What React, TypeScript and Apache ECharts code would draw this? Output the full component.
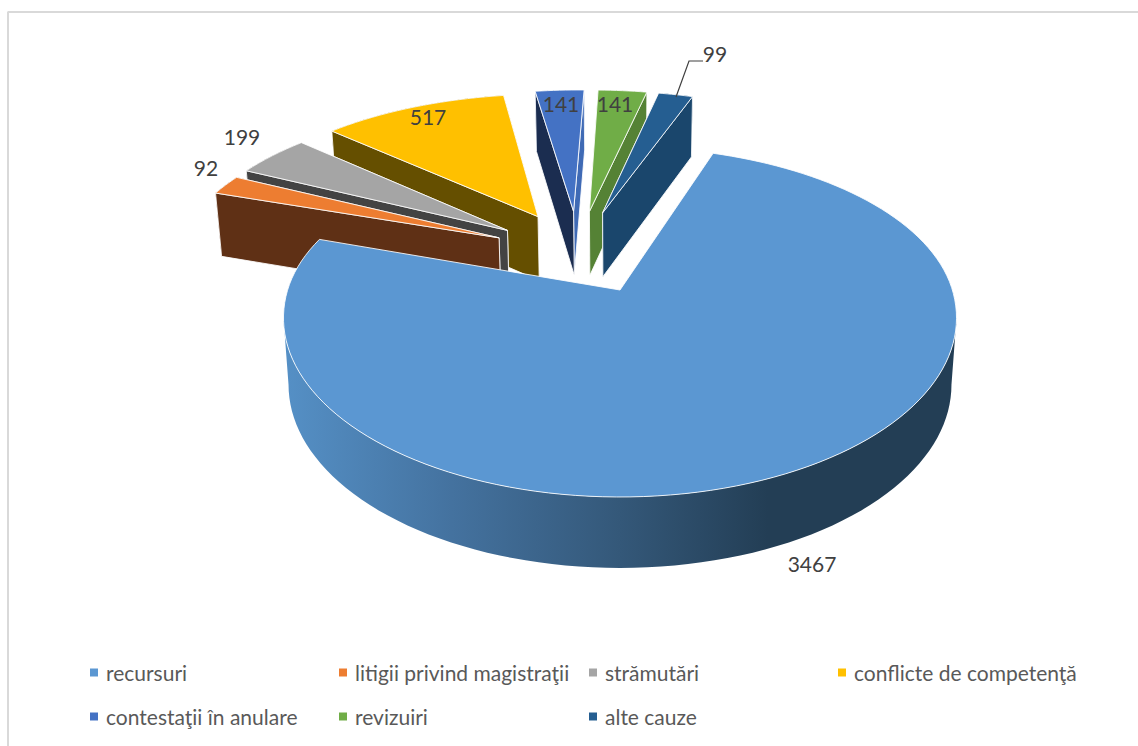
import React, { useEffect, useRef } from "react";
import * as echarts from "echarts";

const categories = ["recursuri", "litigii privind magistraţii", "strămutări", "conflicte de competenţă", "contestaţii în anulare", "revizuiri", "alte cauze"];
const values = [3467, 92, 199, 517, 141, 141, 99];
const topColors = ["#5B97D2", "#ED7D31", "#A5A5A5", "#FFC000", "#4472C4", "#70AD47", "#255E91"];
const startWallColors = ["#365B80", "#5F3015", "#434343", "#654F00", "#1B2D50", "#558235", "#1A466C"];
const endWallColors = ["#365B80", "#5F3015", "#434343", "#654F00", "#3F6AB5", "#558235", "#1A466C"];
const paintOrder = [8, 7, 6, 5, 2, 3, 4];

const legendCols = [90, 339, 589, 838];
const legendSlots = [[0, 0], [1, 0], [2, 0], [3, 0], [0, 1], [1, 1], [2, 1]];
const legendRows = [662, 706];
const labelSpots = [[812, 563], [206, 167], [242, 136], [428, 116], [561, 103], [615, 103], [715, 53]];
const leader = [[676, 97], [689, 61], [703, 61]];

// Perspective model of the pie plane
const X0 = 620, Y0 = 290, A = 332.4, B = 174.7, K = 0.156;
const DEPTH = 66, K2 = 0.07, LEAN = 0.985;
const START = 19.7, EXPLODE = 0.27, CENTER = [-0.13, -0.215], SMALL_STRETCH = 1.035;
const total = values.reduce((a, b) => a + b, 0);
const rad = (d: number) => (d * Math.PI) / 180;
const dir = (deg: number) => [Math.sin(rad(deg)), -Math.cos(rad(deg))];

const spanOf = (i: number) => {
  const before = values.slice(0, i).reduce((a, b) => a + b, 0);
  const a0 = START + (before / total) * 360;
  return [a0, a0 + (values[i] / total) * 360];
};

const top = (u: number, v: number) => {
  const w = 1 - K * v;
  return [X0 + (A * u) / w, Y0 + (B * v) / w];
};
const bottom = (u: number, v: number) => {
  const p = top(u, v);
  return [X0 + (p[0] - X0) * LEAN, p[1] + DEPTH / (1 - K2 * v)];
};

const edge = "rgba(255,255,255,0.85)";

function sliceElements(i: number) {
  const [a0, a1] = spanOf(i);
  const mid = (a0 + a1) / 2;
  const d = dir(mid);
  const ax = i === 0 ? 0 : CENTER[0] + EXPLODE * d[0];
  const ay = i === 0 ? 0 : CENTER[1] + EXPLODE * d[1];
  const base = i === 0 ? 1 : 0.97;
  const stretch = i === 0 ? 1 : SMALL_STRETCH;
  const rimAt = (deg: number) => {
    const q = dir(deg);
    const back = Math.max(0, Math.cos(rad(deg)));
    const r = base - 0.06 * back * back;
    return [ax + r * q[0] * stretch, ay + r * q[1]];
  };
  const steps = Math.max(8, Math.ceil((a1 - a0) / 2));
  const rim: number[][] = [];
  for (let s = 0; s <= steps; s++) rim.push(rimAt(a0 + ((a1 - a0) * s) / steps));
  const first = rim[0], last = rim[rim.length - 1];
  const poly = (pts: number[][], fill: any, stroke: string | null = edge) => ({
    type: "polygon",
    shape: { points: pts },
    style: { fill, stroke: stroke || undefined, lineWidth: stroke ? 1 : 0 },
  });
  const outerOf = (arc: number[][]) => [...arc.map((p) => top(p[0], p[1])), ...arc.slice().reverse().map((p) => bottom(p[0], p[1]))];
  const startWall = [top(ax, ay), top(first[0], first[1]), bottom(first[0], first[1]), bottom(ax, ay)];
  const endWall = [top(ax, ay), top(last[0], last[1]), bottom(last[0], last[1]), bottom(ax, ay)];
  const face = [top(ax, ay), ...rim.map((p) => top(p[0], p[1]))];
  const children: any[] = [];
  if (i === 0) {
    // only the front-facing stretch of the rim, between the two horizontal extremes
    const from = (Math.acos(-K) * 180) / Math.PI;
    const to = 360 - from;
    const arc: number[][] = [];
    for (let s = 0; s <= 80; s++) arc.push(rimAt(from + ((to - from) * s) / 80));
    children.push(poly(outerOf(arc), new echarts.graphic.LinearGradient(0, 0, 1, 0, [
      { offset: 0, color: "#5590C6" },
      { offset: 0.25, color: "#44729F" },
      { offset: 0.5, color: "#345879" },
      { offset: 0.72, color: "#233E55" },
      { offset: 1, color: "#233E55" },
    ]), null));
  } else if (i <= 4) {
    children.push(poly(outerOf(rim), endWallColors[i], null));
    children.push(poly(endWall, endWallColors[i]));
    children.push(poly(startWall, startWallColors[i]));
  } else {
    children.push(poly(startWall, startWallColors[i]));
    children.push(poly(outerOf(rim), endWallColors[i], null));
    children.push(poly(endWall, endWallColors[i]));
  }
  children.push(poly(face, topColors[i]));
  if (i === 6) {
    children.push({ type: "polyline", shape: { points: leader }, style: { stroke: "#404040", lineWidth: 1.2, fill: "none" } });
  }
  children.push({
    type: "text",
    x: labelSpots[i][0],
    y: labelSpots[i][1],
    style: { text: String(values[i]), fill: "#404040", font: "21px Lato", align: "center", verticalAlign: "middle" },
  });
  return { type: "group", children };
}

export default function App() {
  const ref = useRef<HTMLDivElement>(null);
  useEffect(() => {
    document.body.style.margin = "0";
    const chart = echarts.init(ref.current!, null, { renderer: "svg" });
    chart.setOption({
      animation: false,
      backgroundColor: "#ffffff",
      graphic: [
        { type: "line", silent: true, shape: { x1: 7.5, y1: 12, x2: 1138, y2: 12 }, style: { stroke: "#d9d9d9", lineWidth: 2 } },
        { type: "line", silent: true, shape: { x1: 8, y1: 12, x2: 8, y2: 746 }, style: { stroke: "#d9d9d9", lineWidth: 2 } },
      ],
      legend: categories.map((name, i) => ({
        data: [name],
        left: legendCols[legendSlots[i][0]],
        top: legendRows[legendSlots[i][1]],
        icon: "rect",
        itemWidth: 8,
        itemHeight: 8,
        padding: 0,
        selectedMode: false,
        textStyle: { color: "#595959", fontFamily: "Lato", fontSize: 21, padding: [0, 0, 0, 3] },
      })),
      series: categories.map((name, i) => ({
        type: "custom",
        name,
        coordinateSystem: "none",
        silent: true,
        z: paintOrder[i],
        itemStyle: { color: topColors[i] },
        data: [values[i]],
        renderItem: () => sliceElements(i),
      })),
    });
    return () => chart.dispose();
  }, []);
  return <div ref={ref} style={{ width: 1138, height: 746 }} />;
}
